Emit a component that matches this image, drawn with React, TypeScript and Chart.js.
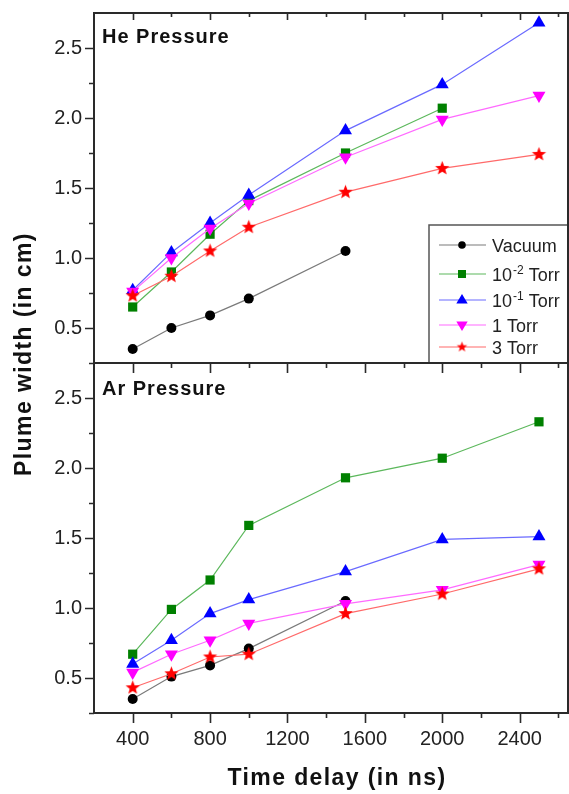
import React, { useEffect, useRef } from 'react';
import { Chart, registerables } from 'chart.js';

Chart.register(...registerables);

// ---------- data ----------
const seriesLabels = ['Vacuum', '10^-2 Torr', '10^-1 Torr', '1 Torr', '3 Torr'];
const timeDelays = [400, 600, 800, 1000, 1500, 2000, 2500];

// He pressure panel
const heVacuum = [0.35, 0.50, 0.59, 0.71, 1.05];
const heTorr1e2 = [0.65, 0.90, 1.17, 1.41, 1.75, 2.07];
const heTorr1e1 = [0.77, 1.04, 1.25, 1.45, 1.91, 2.24, 2.68];
const heTorr1 = [0.76, 1.00, 1.21, 1.39, 1.72, 1.99, 2.16];
const heTorr3 = [0.73, 0.87, 1.05, 1.22, 1.47, 1.64, 1.74];

// Ar pressure panel
const arVacuum = [0.35, 0.51, 0.59, 0.71, 1.05];
const arTorr1e2 = [0.67, 0.99, 1.20, 1.59, 1.93, 2.07, 2.33];
const arTorr1e1 = [0.60, 0.77, 0.96, 1.06, 1.26, 1.49, 1.51];
const arTorr1 = [0.54, 0.67, 0.77, 0.89, 1.03, 1.13, 1.31];
const arTorr3 = [0.43, 0.53, 0.65, 0.67, 0.96, 1.10, 1.28];

const xTickLabels = [400, 800, 1200, 1600, 2000, 2400];
const yTickLabels = [0.5, 1.0, 1.5, 2.0, 2.5];

const panelTitles = ['He Pressure', 'Ar Pressure'];
const xTitle = 'Time delay (in ns)';
const yTitle = 'Plume width (in cm)';

// ---------- styles ----------
const FONT = '"Liberation Sans", Arial, Helvetica, sans-serif';
const markerColors = ['#000000', '#008000', '#0000ff', '#ff00ff', '#ff0000'];
const lineColors = ['#7a7a7a', '#5cb85c', '#6a6aff', '#ff6aff', '#ff6a6a'];
const markerStyles = ['circle', 'rect', 'triangle', 'triangle', 'star'];
const markerRotations = [0, 0, 0, 180, 0];
const markerRadii = [5, 6.5, 7.5, 7.5, 7];
const AXIS = '#2a2a2a';

function makeStar(size: number, outer: number, inner: number, color: string) {
  const c = document.createElement('canvas');
  c.width = size;
  c.height = size;
  const g = c.getContext('2d')!;
  g.fillStyle = color;
  g.beginPath();
  for (let i = 0; i < 10; i++) {
    const r = i % 2 === 0 ? outer : inner;
    const a = -Math.PI / 2 + (i * Math.PI) / 5;
    const px = size / 2 + r * Math.cos(a);
    const py = size / 2 + r * Math.sin(a);
    if (i === 0) g.moveTo(px, py);
    else g.lineTo(px, py);
  }
  g.closePath();
  g.fill();
  return c;
}

function drawMarker(ctx: CanvasRenderingContext2D, idx: number, x: number, y: number, r: number, star: HTMLCanvasElement) {
  ctx.save();
  ctx.fillStyle = markerColors[idx];
  ctx.beginPath();
  const st = markerStyles[idx];
  if (st === 'circle') {
    ctx.arc(x, y, r, 0, Math.PI * 2);
    ctx.fill();
  } else if (st === 'rect') {
    ctx.fillRect(x - r, y - r, 2 * r, 2 * r);
  } else if (st === 'triangle') {
    const dir = markerRotations[idx] === 180 ? 1 : -1;
    ctx.moveTo(x, y + dir * r);
    ctx.lineTo(x - r * 0.95, y - dir * r * 0.6);
    ctx.lineTo(x + r * 0.95, y - dir * r * 0.6);
    ctx.closePath();
    ctx.fill();
  } else {
    ctx.drawImage(star, x - star.width / 2, y - star.height / 2);
  }
  ctx.restore();
}

function drawLabel(ctx: CanvasRenderingContext2D, label: string, x: number, y: number) {
  // label may contain a superscript written as base^sup followed by a space
  ctx.font = `18px ${FONT}`;
  ctx.textBaseline = 'alphabetic';
  ctx.textAlign = 'left';
  const m = label.match(/^(\S+)\^(\S+)(.*)$/);
  if (!m) {
    ctx.fillText(label, x, y);
    return;
  }
  ctx.fillText(m[1], x, y);
  let cx = x + ctx.measureText(m[1]).width + 1;
  ctx.font = `12px ${FONT}`;
  ctx.fillText(m[2], cx, y - 7);
  cx += ctx.measureText(m[2]).width;
  ctx.font = `18px ${FONT}`;
  ctx.fillText(m[3], cx, y);
}

function toPoints(vals: number[]) {
  return vals.map((v, i) => ({ x: timeDelays[i], y: v }));
}

const zeroPad = (s: any) => {
  s.paddingTop = 0;
  s.paddingBottom = 0;
  s.paddingLeft = 0;
  s.paddingRight = 0;
};

export default function App() {
  const ref = useRef<HTMLCanvasElement>(null);

  useEffect(() => {
    const star = makeStar(17, 7.5, 3.2, markerColors[4]);
    const starSmall = makeStar(13, 5.5, 2.3, markerColors[4]);
    const heSets = [heVacuum, heTorr1e2, heTorr1e1, heTorr1, heTorr3];
    const arSets = [arVacuum, arTorr1e2, arTorr1e1, arTorr1, arTorr3];

    const build = (sets: number[][], axis: string, prefix: string) =>
      sets.map((vals, i) => ({
        label: `${prefix} ${seriesLabels[i]}`,
        data: toPoints(vals),
        yAxisID: axis,
        xAxisID: 'x',
        order: -i,
        borderColor: lineColors[i],
        borderWidth: 1.2,
        backgroundColor: markerColors[i],
        pointBackgroundColor: markerColors[i],
        pointBorderColor: markerColors[i],
        pointBorderWidth: 0,
        pointStyle: markerStyles[i] === 'star' ? star : markerStyles[i],
        rotation: markerRotations[i],
        pointRadius: markerRadii[i],
        pointHoverRadius: markerRadii[i],
        tension: 0,
        fill: false,
      }));

    const yScale = (panel: string) => ({
      type: 'linear',
      position: 'left',
      stack: 'panels',
      stackWeight: 1,
      min: 0.25,
      max: 2.75,
      afterBuildTicks: (s: any) => {
        s.ticks = yTickLabels.map((v) => ({ value: v }));
      },
      afterFit: (s: any) => {
        s.width = 94;
        zeroPad(s);
      },
      grid: { display: false, drawTicks: false },
      border: { display: false },
      ticks: {
        font: { family: FONT, size: 20 },
        color: '#222',
        padding: 12,
        callback: (v: any) => Number(v).toFixed(1),
      },
      title: { display: false, text: panel },
    });

    const decorPlugin = {
      id: 'decor',
      afterDraw(chart: any) {
        const ctx: CanvasRenderingContext2D = chart.ctx;
        const x = chart.scales.x;
        const yHe = chart.scales.yHe;
        const yAr = chart.scales.yAr;
        const L = chart.chartArea.left;
        const R = chart.chartArea.right;
        const T = yHe.top;
        const M = yHe.bottom;
        const B = yAr.bottom;
        ctx.save();

        // legend box
        const bx = R - 139;
        const by = M - 138;
        ctx.fillStyle = '#ffffff';
        ctx.fillRect(bx, by, R - bx, M - by);
        ctx.strokeStyle = '#555';
        ctx.lineWidth = 1.5;
        ctx.strokeRect(bx, by, R - bx, M - by);
        const rows = [20, 49, 75, 100, 122];
        const legendR = [3.8, 4, 6, 6, 0];
        seriesLabels.forEach((lab, i) => {
          const ry = by + rows[i];
          ctx.strokeStyle = lineColors[i];
          ctx.lineWidth = 1.2;
          ctx.beginPath();
          ctx.moveTo(bx + 10, ry);
          ctx.lineTo(bx + 57, ry);
          ctx.stroke();
          drawMarker(ctx, i, bx + 33, ry, legendR[i], starSmall);
          ctx.fillStyle = '#222';
          drawLabel(ctx, lab, bx + 63, ry + 6.5);
        });

        // frame
        ctx.strokeStyle = AXIS;
        ctx.lineWidth = 2;
        ctx.strokeRect(L, T, R - L, B - T);
        ctx.beginPath();
        ctx.moveTo(L, M);
        ctx.lineTo(R, M);
        ctx.stroke();

        // tick marks
        ctx.lineWidth = 1.6;
        ctx.beginPath();
        for (let v = 400; v <= 2600; v += 200) {
          const px = Math.round(x.getPixelForValue(v)) + 0.5;
          const major = v % 400 === 0;
          ctx.moveTo(px, B);
          ctx.lineTo(px, B + (major ? 10 : 5));
          ctx.moveTo(px, M);
          ctx.lineTo(px, M + (major ? 10 : 5));
          ctx.moveTo(px, T);
          ctx.lineTo(px, T + (major ? 7 : 4));
        }
        [yHe, yAr].forEach((s: any) => {
          for (let k = 1; k <= 10; k++) {
            const v = 0.25 * k;
            const py = Math.round(s.getPixelForValue(v)) + 0.5;
            const major = k % 2 === 0;
            ctx.moveTo(L, py);
            ctx.lineTo(L - (major ? 9 : 5), py);
          }
        });
        ctx.stroke();

        // panel titles
        ctx.fillStyle = '#111';
        ctx.font = `bold 20px ${FONT}`;
        (ctx as any).letterSpacing = '1px';
        ctx.textAlign = 'left';
        ctx.textBaseline = 'alphabetic';
        ctx.fillText(panelTitles[0], L + 8, T + 30);
        ctx.fillText(panelTitles[1], L + 8, M + 32);

        // axis titles
        ctx.font = `bold 23px ${FONT}`;
        (ctx as any).letterSpacing = '1.4px';
        ctx.textAlign = 'center';
        ctx.fillText(xTitle, (L + R) / 2 + 6, 785);
        ctx.save();
        ctx.translate(31, (T + B) / 2 - 9);
        ctx.rotate(-Math.PI / 2);
        ctx.fillText(yTitle, 0, 0);
        ctx.restore();
        (ctx as any).letterSpacing = '0px';
        ctx.restore();
      },
    };

    const chart = new Chart(ref.current!, {
      type: 'line',
      data: {
        datasets: [...build(arSets, 'yAr', 'Ar'), ...build(heSets, 'yHe', 'He')] as any,
      },
      options: {
        responsive: false,
        animation: false,
        events: [],
        layout: { autoPadding: false, padding: { top: 13, right: 1, left: 0, bottom: 0 } },
        plugins: {
          legend: { display: false },
          tooltip: { enabled: false },
        },
        scales: {
          x: {
            type: 'linear',
            position: 'bottom',
            min: 200,
            max: 2650,
            afterBuildTicks: (s: any) => {
              s.ticks = xTickLabels.map((v) => ({ value: v }));
            },
            afterFit: (s: any) => {
              s.height = 81;
              zeroPad(s);
            },
            grid: { display: false, drawTicks: false },
            border: { display: false },
            ticks: {
              font: { family: FONT, size: 20 },
              color: '#222',
              padding: 14,
              maxRotation: 0,
              autoSkip: false,
              callback: (v: any) => String(v),
            },
          },
          yAr: yScale('Ar'),
          yHe: yScale('He'),
        } as any,
      },
      plugins: [decorPlugin],
    });
    return () => chart.destroy();
  }, []);

  return (
    <div style={{ position: 'absolute', left: 0, top: 0, width: 569, height: 794 }}>
      <canvas ref={ref} width={569} height={794} style={{ display: 'block', width: 569, height: 794 }} />
    </div>
  );
}
